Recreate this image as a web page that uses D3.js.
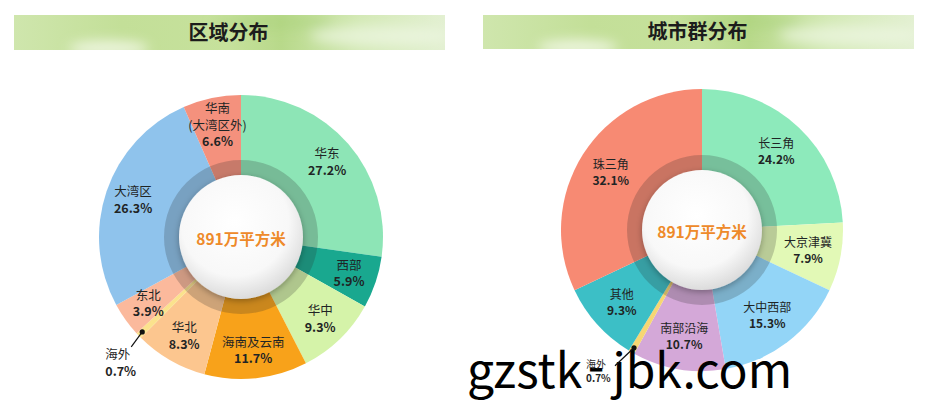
<!DOCTYPE html>
<html>
<head>
<meta charset="utf-8">
<script src="https://cdn.jsdelivr.net/npm/d3@7"></script>
<style>
  html, body { margin: 0; padding: 0; background: #fff; }
  text { font-family: "Noto Sans CJK SC", "Noto Sans", sans-serif; }
</style>
</head>
<body>
<div id="container"></div>
<script>
// region split (left donut)
var regionNames = ["华东", "西部", "华中", "海南及云南", "华北", "海外", "东北", "大湾区", "华南\n(大湾区外)"];
var regionShare = [27.2, 5.9, 9.3, 11.7, 8.3, 0.7, 3.9, 26.3, 6.6];
var regionColors = ["#8de5b6", "#19a88f", "#d5f3a9", "#f8a21a", "#fcc68f", "#fbe28d", "#fbb99c", "#8fc3ec", "#f4917d"];

// city cluster split (right donut)
var clusterNames = ["长三角", "大京津冀", "大中西部", "南部沿海", "海外", "其他", "珠三角"];
var clusterShare = [24.2, 7.9, 15.3, 10.7, 0.7, 9.3, 32.1];
var clusterColors = ["#8deabb", "#e2f9b6", "#93d5f7", "#d4a8d8", "#f6d673", "#3cbfc6", "#f78a73"];

var titles = ["区域分布", "城市群分布"];
var centerText = "891万平方米";
var watermarkParts = ["gzstk", "-", "jbk.com"];

var width = 930, height = 419;

var svg = d3.select("#container").append("svg")
    .attr("width", width)
    .attr("height", height);

svg.append("rect").attr("width", width).attr("height", height).attr("fill", "#fff");

var defs = svg.append("defs");

// watercolor-ish banner fill
var bg = defs.append("linearGradient").attr("id", "banner").attr("x1", 0).attr("x2", 1).attr("y1", 0).attr("y2", 0);
[[0, "#cfe6ad"], [0.25, "#c3df98"], [0.5, "#c6e19c"], [0.62, "#b8d98a"], [0.8, "#d3e9b5"], [1, "#e3f0d2"]]
  .forEach(function(s) { bg.append("stop").attr("offset", s[0]).attr("stop-color", s[1]); });

var blur = defs.append("filter").attr("id", "soft").attr("x", "-50%").attr("y", "-50%").attr("width", "200%").attr("height", "200%");
blur.append("feGaussianBlur").attr("stdDeviation", 6);

var wg = defs.append("radialGradient").attr("id", "white").attr("cx", "45%").attr("cy", "38%").attr("r", "62%");
wg.append("stop").attr("offset", 0).attr("stop-color", "#ffffff");
wg.append("stop").attr("offset", 0.7).attr("stop-color", "#f8f8f8");
wg.append("stop").attr("offset", 1).attr("stop-color", "#dcdcdc");

var sh = defs.append("filter").attr("id", "shadow").attr("x", "-30%").attr("y", "-30%").attr("width", "160%").attr("height", "160%");
sh.append("feDropShadow").attr("dx", 0).attr("dy", 2).attr("stdDeviation", 3).attr("flood-color", "#000").attr("flood-opacity", 0.3);

function banner(x, w, y, h, title) {
  var g = svg.append("g");
  g.append("rect").attr("x", x).attr("y", y).attr("width", w).attr("height", h).attr("fill", "url(#banner)");
  var clipId = "clip" + x;
  defs.append("clipPath").attr("id", clipId)
    .append("rect").attr("x", x).attr("y", y).attr("width", w).attr("height", h);
  var tex = g.append("g").attr("clip-path", "url(#" + clipId + ")").attr("filter", "url(#soft)");
  tex.append("ellipse").attr("cx", x + w * 0.22).attr("cy", y + h * 0.95).attr("rx", 40).attr("ry", 8).attr("fill", "#f4f9ea").attr("opacity", 0.8);
  tex.append("ellipse").attr("cx", x + w * 0.6).attr("cy", y + h * 0.2).attr("rx", 60).attr("ry", 7).attr("fill", "#a9d27a").attr("opacity", 0.5);
  tex.append("ellipse").attr("cx", x + w * 0.85).attr("cy", y + h * 0.6).attr("rx", 70).attr("ry", 10).attr("fill", "#eef6e2").attr("opacity", 0.7);
  g.append("text")
    .attr("x", x + w / 2 - 1)
    .attr("y", y + h / 2 + 7)
    .attr("text-anchor", "middle")
    .attr("font-size", 20)
    .attr("font-weight", "bold")
    .attr("fill", "#1c1c1c")
    .text(title);
}

banner(14, 431, 15, 35, titles[0]);
banner(483, 431, 15, 34, titles[1]);

function donut(opt) {
  var data = opt.names.map(function(n, i) { return { name: n, value: opt.values[i], color: opt.colors[i] }; });
  var pie = d3.pie().sort(null).value(function(d) { return d.value; });
  var arcs = pie(data);
  var arc = d3.arc().innerRadius(0).outerRadius(opt.r);
  var g = svg.append("g").attr("transform", "translate(" + opt.cx + "," + opt.cy + ")");

  g.selectAll("path.slice")
    .data(arcs)
    .enter().append("path")
      .attr("class", "slice")
      .attr("d", arc)
      .attr("fill", function(d) { return d.data.color; });

  // darker band round the hub
  g.append("path")
    .attr("d", d3.arc().innerRadius(opt.hub - 2).outerRadius(opt.ring).startAngle(0).endAngle(2 * Math.PI)())
    .attr("fill", "#2b2b2b")
    .attr("opacity", 0.22);

  g.append("circle")
    .attr("r", opt.hub)
    .attr("fill", "url(#white)")
    .attr("filter", "url(#shadow)");

  g.append("text")
    .attr("x", 0).attr("y", opt.textDy)
    .attr("text-anchor", "middle")
    .attr("font-size", 15.5)
    .attr("font-weight", "bold")
    .attr("fill", "#ee8a2a")
    .text(centerText);

  var labelArc = d3.arc().innerRadius(opt.labelR).outerRadius(opt.labelR);
  var big = arcs.filter(function(d) { return d.data.value >= 1; });
  var lab = g.selectAll("g.lab")
    .data(big)
    .enter().append("g")
      .attr("class", "lab")
      .attr("transform", function(d) {
        var c = labelArc.centroid(d);
        return "translate(" + c[0] + "," + c[1] + ")";
      });

  lab.each(function(d) {
    var lines = d.data.name.split("\n");
    lines.push(d.data.value.toFixed(1) + "%");
    var n = lines.length;
    var sel = d3.select(this);
    lines.forEach(function(t, i) {
      var isPct = i === n - 1;
      sel.append("text")
        .attr("x", 0)
        .attr("y", (i - (n - 1) / 2) * opt.lh + opt.fs * 0.36)
        .attr("text-anchor", "middle")
        .attr("font-size", opt.fs)
        .attr("font-weight", isPct ? "bold" : "normal")
        .attr("fill", "#1f2525")
        .text(t);
    });
  });

  // tiny slice gets a leader line
  arcs.filter(function(d) { return d.data.value < 1; }).forEach(function(d) {
    var p = d3.arc().innerRadius(opt.r - 5).outerRadius(opt.r - 5).centroid(d);
    var e = [p[0] + opt.lead[0], p[1] + opt.lead[1]];
    var lg = g.append("g").attr("class", "lead");
    lg.append("line").attr("x1", p[0]).attr("y1", p[1]).attr("x2", e[0]).attr("y2", e[1])
      .attr("stroke", "#111").attr("stroke-width", 1.2);
    lg.append("circle").attr("cx", p[0]).attr("cy", p[1]).attr("r", 2.6).attr("fill", "#111");
    var lx = e[0] + opt.leadLabel[0], ly = e[1] + opt.leadLabel[1];
    lg.append("text").attr("x", lx).attr("y", ly).attr("font-size", opt.sfs).attr("fill", "#1f2525").text(d.data.name);
    lg.append("text").attr("x", lx).attr("y", ly + opt.sfs * 1.4).attr("font-size", opt.sfs)
      .attr("font-weight", "bold").attr("fill", "#1f2525").text(d.data.value.toFixed(1) + "%");
  });
  return g;
}

donut({
  names: regionNames, values: regionShare, colors: regionColors,
  cx: 241, cy: 237, r: 142, hub: 62, ring: 77, labelR: 114,
  fs: 12.5, lh: 16.5, sfs: 12.5, textDy: 8,
  lead: [-11, 15], leadLabel: [-26, 12]
});

var right = donut({
  names: clusterNames, values: clusterShare, colors: clusterColors,
  cx: 702, cy: 230, r: 141, hub: 60, ring: 75, labelR: 108,
  fs: 12, lh: 16, sfs: 10, textDy: 8,
  lead: [-19, 18], leadLabel: [-29, 2]
});

// site watermark over the picture
var wm = svg.append("text")
  .attr("x", 467)
  .attr("y", 388)
  .attr("font-family", "'Liberation Sans', Arial, sans-serif")
  .attr("font-size", 48)
  .attr("fill", "#000");
wm.append("tspan").text(watermarkParts[0]);
wm.append("tspan").attr("dx", 8).attr("dy", -5).text(watermarkParts[1]);
wm.append("tspan").attr("dx", 8).attr("dy", 5).text(watermarkParts[2]);

// the small right-hand label sits on top of the watermark gap
right.selectAll("g.lead").each(function() {
  var node = this;
  var abs = svg.append("g").attr("transform", right.attr("transform"));
  abs.node().appendChild(node);
});
</script>
</body>
</html>
